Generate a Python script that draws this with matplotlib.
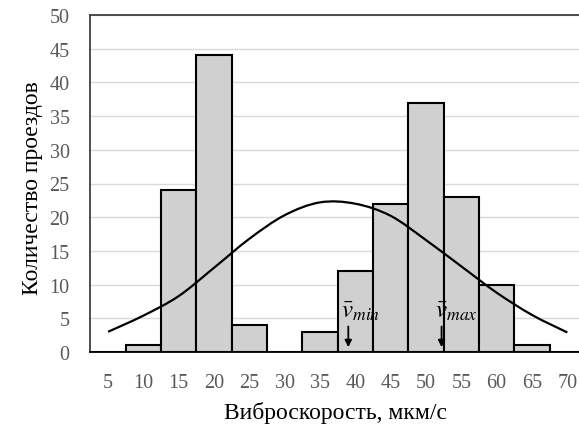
import numpy as np
import matplotlib
matplotlib.use("Agg")
import matplotlib.pyplot as plt
from matplotlib.path import Path
from matplotlib.patches import PathPatch

plt.rcParams['font.family'] = ['Liberation Serif', 'DejaVu Serif']
plt.rcParams['mathtext.fontset'] = 'stix'

# Data
speeds = [5, 10, 15, 20, 25, 30, 35, 40, 45, 50, 55, 60, 65, 70]
counts = [0, 1, 24, 44, 4, 0, 3, 12, 22, 37, 23, 10, 1, 0]
normal_curve = [3.0, 5.4, 8.3, 12.5, 16.8, 20.3, 22.2, 22.0, 20.2, 16.6, 12.7, 8.8, 5.5, 2.9]
v_min = 39.0
v_max = 52.2
yticks = [0, 5, 10, 15, 20, 25, 30, 35, 40, 45, 50]

W, H = 579, 427
L, R, T, B = 90.4, 585, 16, 353
fig = plt.figure(figsize=(W / 100, H / 100), dpi=100)
ax = fig.add_axes([L / W, 1 - B / H, (R - L) / W, (B - T) / H])

ax.bar(speeds, counts, width=5, color='#D0D0D0', edgecolor='black', linewidth=1.5, zorder=3)

# smooth curve (Catmull-Rom -> Bezier) through the points
x = np.array(speeds, float)
y = np.array(normal_curve, float)
verts = [(x[0], y[0])]
codes = [Path.MOVETO]
n = len(x)
for i in range(n - 1):
    p0 = np.array([x[max(i - 1, 0)], y[max(i - 1, 0)]])
    p1 = np.array([x[i], y[i]])
    p2 = np.array([x[i + 1], y[i + 1]])
    p3 = np.array([x[min(i + 2, n - 1)], y[min(i + 2, n - 1)]])
    c1 = p1 + (p2 - p0) / 6
    c2 = p2 - (p3 - p1) / 6
    verts += [tuple(c1), tuple(c2), tuple(p2)]
    codes += [Path.CURVE4] * 3
ax.add_patch(PathPatch(Path(verts, codes), facecolor='none', edgecolor='black', lw=1.6, zorder=4))

ax.set_xlim(2.5, 72.5)
ax.set_ylim(0, 50)
ax.set_xticks(speeds)
ax.set_yticks(yticks)
ax.tick_params(axis='both', length=0, labelsize=14.5, labelcolor='#595959')
ax.tick_params(axis='x', pad=15)
ax.tick_params(axis='y', pad=15)
ax.grid(axis='y', color='#D9D9D9', lw=1, zorder=0)
ax.set_axisbelow(True)
for s in ['top', 'left', 'bottom']:
    ax.spines[s].set_color('#404040')
    ax.spines[s].set_linewidth(1.3)
ax.spines['bottom'].set_color('black')
ax.spines['right'].set_visible(False)

ax.set_ylabel('Количество проездов', fontsize=17)
ax.yaxis.set_label_coords(-(L - 33) / (R - L), (B - 188) / (B - T))
ax.yaxis.label.set_va('center')
ax.set_xlabel('Виброскорость, мкм/с', fontsize=17)
ax.xaxis.set_label_coords((335 - L) / (R - L), -(413 - B) / (B - T))
ax.xaxis.label.set_va('center')

for v, lab in [(v_min, r'$\bar{v}_{min}$'), (v_max, r'$\bar{v}_{max}$')]:
    ax.annotate('', xy=(v, 0.3), xytext=(v, 4.2),
                arrowprops=dict(arrowstyle='-|>', color='black', lw=1.3, mutation_scale=10), zorder=6)
    ax.text(v - 1.0, 4.4, lab, fontsize=18, ha='left', va='bottom', zorder=6)

fig.savefig('out.png', dpi=100)
